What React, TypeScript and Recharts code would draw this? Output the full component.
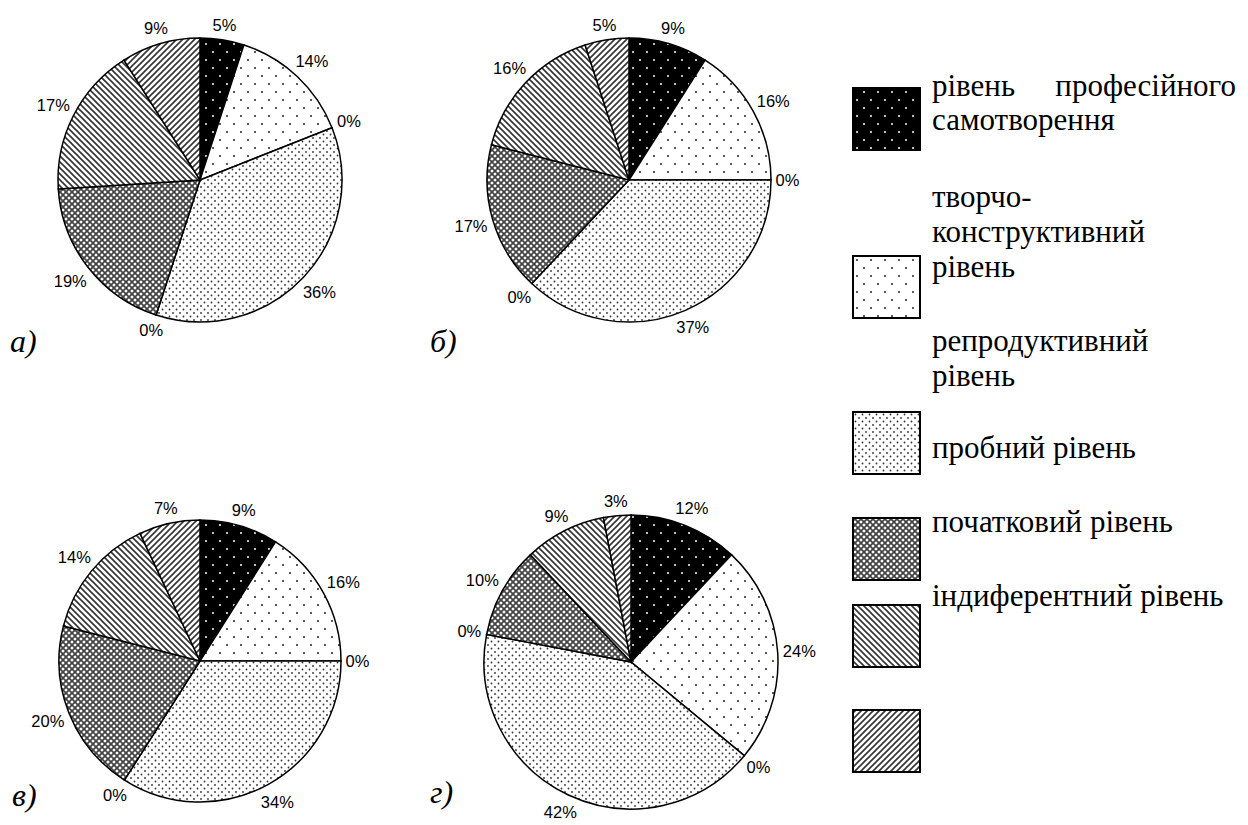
import { Cell, Pie, PieChart } from "recharts";

// рівні (порядок секторів за годинниковою стрілкою від 12 год.)
const levels = [
  "рівень професійного самотворення",
  "творчо-конструктивний рівень",
  "репродуктивний рівень",
  "пробний рівень",
  "",
  "початковий рівень",
  "індиферентний рівень",
  "",
];
const sliceFills = ["black", "sparse", "none", "dense", "none", "cross", "back", "fwd"];

const valuesA = [5, 14, 0, 36, 0, 19, 17, 9];
const valuesB = [9, 16, 0, 37, 0, 17, 16, 5];
const valuesV = [9, 16, 0, 34, 0, 20, 14, 7];
const valuesG = [12, 24, 0, 42, 0, 10, 9, 3];
const panelTags = ["а)", "б)", "в)", "г)"];
const tagPos = [
  [10, 352],
  [430, 352],
  [12, 806],
  [430, 803],
];

// легенда: рядки тексту та зразки
const legendLines = [
  ["рівень", 96],
  ["самотворення", 130],
  ["творчо-", 207],
  ["конструктивний", 242],
  ["рівень", 277],
  ["репродуктивний", 351],
  ["рівень", 386],
  ["пробний рівень", 458],
  ["початковий рівень", 532],
  ["індиферентний рівень", 606],
] as const;
const legendSwatches = ["black", "sparse", "dense", "cross", "back", "fwd"];
const swatchTops = [88, 256, 412, 518, 605, 710];

const RADIAN = Math.PI / 180;

function Patterns({ p }: { p: string }) {
  return (
    <defs>
      <pattern id={`${p}black`} width={14} height={16} patternUnits="userSpaceOnUse">
        <rect width={14} height={16} fill="#000" />
        <circle cx={3} cy={4} r={1} fill="#fff" />
        <circle cx={10} cy={12} r={1} fill="#fff" />
      </pattern>
      <pattern id={`${p}sparse`} width={14} height={16} patternUnits="userSpaceOnUse">
        <rect width={14} height={16} fill="#fff" />
        <circle cx={3} cy={4} r={1} fill="#222" />
        <circle cx={10} cy={12} r={1} fill="#222" />
      </pattern>
      <pattern id={`${p}dense`} width={7} height={7} patternUnits="userSpaceOnUse">
        <rect width={7} height={7} fill="#fff" />
        <circle cx={1.5} cy={1.5} r={0.9} fill="#333" />
        <circle cx={5} cy={5} r={0.9} fill="#333" />
      </pattern>
      <pattern id={`${p}none`} width={7} height={7} patternUnits="userSpaceOnUse">
        <rect width={7} height={7} fill="#fff" />
      </pattern>
      <pattern id={`${p}cross`} width={6} height={6} patternUnits="userSpaceOnUse">
        <rect width={6} height={6} fill="#fff" />
        <path d="M0,0 L6,6 M6,0 L0,6" stroke="#444" strokeWidth={1.8} />
      </pattern>
      <pattern id={`${p}back`} width={6} height={6} patternUnits="userSpaceOnUse">
        <rect width={6} height={6} fill="#fff" />
        <path d="M-1,-1 L7,7 M-1,5 L1,7 M5,-1 L7,1" stroke="#333" strokeWidth={1.6} />
      </pattern>
      <pattern id={`${p}fwd`} width={6} height={6} patternUnits="userSpaceOnUse">
        <rect width={6} height={6} fill="#fff" />
        <path d="M-1,7 L7,-1 M-1,1 L1,-1 M5,7 L7,5" stroke="#333" strokeWidth={1.6} />
      </pattern>
    </defs>
  );
}

function renderLabel(props: any) {
  const { cx, cy, midAngle, outerRadius, value } = props;
  const text = `${value}%`;
  const a = -midAngle * RADIAN;
  const cos = Math.cos(a);
  const sin = Math.sin(a);
  const w = text.length * 9.5;
  const h = 13;
  const r = outerRadius + 7 + Math.abs(cos) * (w / 2) + Math.abs(sin) * (h / 2);
  return (
    <text
      x={cx + r * cos}
      y={cy + r * sin}
      textAnchor="middle"
      dominantBaseline="central"
      fontSize={16.5}
      fontFamily="Liberation Sans"
      fill="#000"
    >
      {text}
    </text>
  );
}

function LevelPie({
  id,
  values,
  left,
  top,
  cx,
  cy,
  radius,
}: {
  id: string;
  values: number[];
  left: number;
  top: number;
  cx: number;
  cy: number;
  radius: number;
}) {
  const data = values.map((v, i) => ({ name: levels[i] || `рівень ${i + 1}`, value: v }));
  return (
    <div style={{ position: "absolute", left, top }}>
      <PieChart width={420} height={360} margin={{ top: 0, right: 0, bottom: 0, left: 0 }}>
        <Patterns p={id} />
        <Pie
          data={data}
          dataKey="value"
          cx={cx}
          cy={cy}
          outerRadius={radius}
          startAngle={90}
          endAngle={-270}
          label={renderLabel}
          labelLine={false}
          isAnimationActive={false}
        >
          {data.map((_, i) => (
            <Cell key={i} fill={`url(#${id}${sliceFills[i]})`} stroke="#000" strokeWidth={1.5} />
          ))}
        </Pie>
      </PieChart>
    </div>
  );
}

export default function App() {
  return (
    <div style={{ position: "relative", width: 1248, height: 825, background: "#fff" }}>
      <style>{"body{margin:0}"}</style>
      <LevelPie id="pa" values={valuesA} left={0} top={0} cx={200} cy={180} radius={142} />
      <LevelPie id="pb" values={valuesB} left={420} top={0} cx={209} cy={180} radius={142} />
      <LevelPie id="pv" values={valuesV} left={0} top={465} cx={200} cy={196} radius={141} />
      <LevelPie id="pg" values={valuesG} left={420} top={465} cx={211} cy={197} radius={147} />

      <svg width={1248} height={825} style={{ position: "absolute", left: 0, top: 0 }}>
        <Patterns p="lg" />
        {legendSwatches.map((s, i) => (
          <rect
            key={s}
            x={853}
            y={swatchTops[i]}
            width={67}
            height={62}
            fill={`url(#lg${s})`}
            stroke="#000"
            strokeWidth={2}
          />
        ))}
        {legendLines.map(([t, y], i) => (
          <text key={i} x={932} y={y} fontFamily="Liberation Serif" fontSize={31} fill="#000">
            {t}
          </text>
        ))}
        <text x={1236} y={96} textAnchor="end" fontFamily="Liberation Serif" fontSize={31} fill="#000">
          професійного
        </text>
        {panelTags.map((t, i) => (
          <text
            key={t}
            x={tagPos[i][0]}
            y={tagPos[i][1]}
            fontFamily="Liberation Serif"
            fontStyle="italic"
            fontSize={32}
            fill="#000"
          >
            {t}
          </text>
        ))}
      </svg>
    </div>
  );
}
